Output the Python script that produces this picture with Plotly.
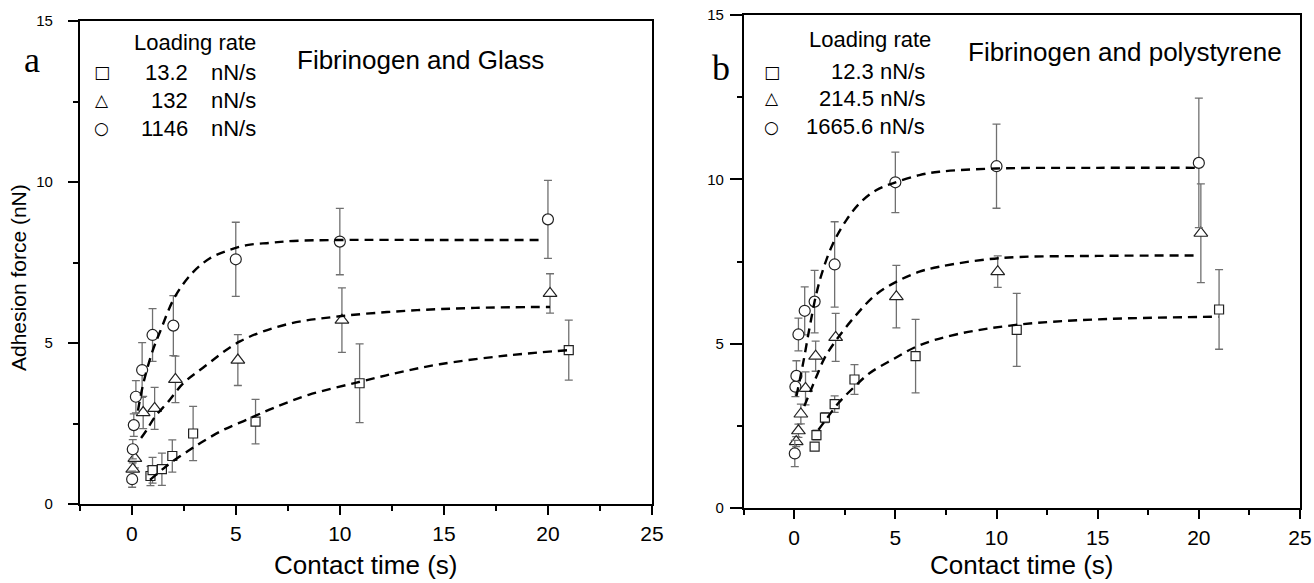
import plotly.graph_objects as go

# ---------------- data ----------------
# Panel a: Fibrinogen and Glass
sq_a_x = [0.9, 1.0, 1.45, 1.95, 2.95, 5.95, 10.95, 21.0]
sq_a_y = [0.87, 1.05, 1.08, 1.49, 2.19, 2.56, 3.75, 4.78]
sq_a_err = [0.3, 0.4, 0.5, 0.5, 0.84, 0.69, 1.22, 0.93]

tri_a_x = [0.05, 0.15, 0.55, 1.1, 2.1, 5.1, 10.1, 20.1]
tri_a_y = [1.08, 1.42, 2.84, 2.97, 3.87, 4.47, 5.71, 6.54]
tri_a_err = [0.2, 0.3, 0.5, 0.65, 0.72, 0.79, 1.0, 0.61]

cir_a_x = [0.02, 0.05, 0.1, 0.2, 0.5, 1.0, 2.0, 5.0, 10.0, 20.0]
cir_a_y = [0.77, 1.70, 2.45, 3.33, 4.16, 5.25, 5.54, 7.6, 8.15, 8.84]
cir_a_err = [0.25, 0.3, 0.35, 0.5, 0.85, 0.82, 0.93, 1.15, 1.03, 1.21]

fit_sq_a_x = [0.88, 1.52, 1.92, 2.72, 3.44, 4.4, 5.53, 6.8, 8.5, 10.8, 12.8, 14.8, 18.0, 21.0]
fit_sq_a_y = [0.75, 1.1, 1.3, 1.65, 1.95, 2.3, 2.62, 2.98, 3.39, 3.77, 4.08, 4.34, 4.61, 4.78]
fit_tri_a_x = [0.45, 0.72, 1.12, 1.76, 2.48, 3.44, 5.2, 7.45, 10.0, 13.2, 16.5, 20.1]
fit_tri_a_y = [2.05, 2.3, 2.71, 3.18, 3.75, 4.24, 5.05, 5.58, 5.83, 6.0, 6.09, 6.12]
fit_cir_a_x = [0.3, 0.56, 1.0, 1.36, 2.08, 2.96, 3.76, 4.57, 5.53, 6.65, 7.77, 10.0, 15.0, 19.8]
fit_cir_a_y = [2.9, 3.75, 4.75, 5.35, 6.44, 7.21, 7.63, 7.86, 8.04, 8.11, 8.17, 8.2, 8.2, 8.2]

# Panel b: Fibrinogen and polystyrene
sq_b_x = [1.01, 1.1, 1.52, 2.0, 2.98, 6.0, 11.0, 21.0]
sq_b_y = [1.87, 2.22, 2.75, 3.16, 3.91, 4.62, 5.42, 6.04]
sq_b_err = [0.1, 0.15, 0.15, 0.25, 0.45, 1.12, 1.11, 1.21]

tri_b_x = [0.1, 0.21, 0.33, 0.56, 1.06, 2.05, 5.05, 10.06, 20.1]
tri_b_y = [2.02, 2.35, 2.86, 3.64, 4.62, 5.19, 6.43, 7.19, 8.36]
tri_b_err = [0.15, 0.2, 0.3, 0.5, 0.46, 0.73, 0.95, 0.48, 1.5]

cir_b_x = [0.03, 0.06, 0.11, 0.21, 0.52, 1.01, 2.0, 5.0, 10.0, 20.0]
cir_b_y = [1.66, 3.69, 4.02, 5.28, 6.0, 6.28, 7.41, 9.91, 10.4, 10.5]
cir_b_err = [0.4, 0.3, 0.46, 0.5, 0.73, 0.95, 1.3, 0.92, 1.28, 1.97]

fit_sq_b_x = [1.2, 1.5, 2.2, 2.98, 3.72, 4.87, 6.19, 8.0, 10.95, 15.0, 20.97]
fit_sq_b_y = [2.38, 2.63, 3.2, 3.69, 4.1, 4.52, 4.95, 5.28, 5.57, 5.74, 5.82]
fit_tri_b_x = [0.5, 0.8, 1.1, 1.5, 2.08, 3.1, 4.05, 5.04, 6.19, 7.17, 10.1, 15.0, 19.96]
fit_tri_b_y = [3.1, 3.55, 4.0, 4.56, 5.11, 5.9, 6.5, 6.88, 7.19, 7.34, 7.6, 7.67, 7.68]
fit_cir_b_x = [0.11, 0.44, 0.77, 1.1, 1.42, 1.92, 2.58, 3.23, 4.05, 4.87, 6.19, 7.17, 10.0, 15.0, 19.8]
fit_cir_b_y = [3.4, 4.4, 5.52, 6.53, 7.24, 8.05, 8.76, 9.27, 9.67, 9.88, 10.13, 10.23, 10.33, 10.35, 10.35]

# text
panel_letters = ["a", "b"]
panel_titles = ["Fibrinogen and Glass", "Fibrinogen and polystyrene"]
legend_title = "Loading rate"
legend_symbols = ["\u25a1", "\u25b3", "\u25cb"]
rates_a = ["13.2", "132", "1146"]
unit_a = "nN/s"
rates_b = ["12.3 nN/s", "214.5 nN/s", "1665.6 nN/s"]
x_title = "Contact time (s)"
y_title = "Adhesion force (nN)"
x_ticks = [0, 5, 10, 15, 20, 25]
y_ticks = [0, 5, 10, 15]

# ---------------- figure ----------------
W, H = 1314, 583
SANS = "Liberation Sans, Arial, Helvetica, sans-serif"
SERIF = "Liberation Serif, Times New Roman, serif"


def px(x):
    return x / W


def py(y):
    return 1 - y / H


fig = go.Figure()

marker_line = dict(color="#222222", width=1.2)
err_style = dict(type="data", color="#707070", thickness=1.3, width=4)
fit_style = dict(color="black", width=2.4, dash="9px,6px", shape="spline")

series = [
    ("x", "y", sq_a_x, sq_a_y, sq_a_err, "square", 9),
    ("x", "y", tri_a_x, tri_a_y, tri_a_err, "triangle-up", 12),
    ("x", "y", cir_a_x, cir_a_y, cir_a_err, "circle", 11),
    ("x2", "y2", sq_b_x, sq_b_y, sq_b_err, "square", 9),
    ("x2", "y2", tri_b_x, tri_b_y, tri_b_err, "triangle-up", 12),
    ("x2", "y2", cir_b_x, cir_b_y, cir_b_err, "circle", 11),
]
for xa, ya, xs, ys, es, sym, size in series:
    fig.add_trace(go.Scatter(
        x=xs, y=ys, mode="markers", xaxis=xa, yaxis=ya, showlegend=False,
        error_y=dict(array=es, **err_style),
        marker=dict(symbol=sym, size=size, color="white", line=marker_line),
    ))

fits = [
    ("x", "y", fit_sq_a_x, fit_sq_a_y), ("x", "y", fit_tri_a_x, fit_tri_a_y),
    ("x", "y", fit_cir_a_x, fit_cir_a_y),
    ("x2", "y2", fit_sq_b_x, fit_sq_b_y), ("x2", "y2", fit_tri_b_x, fit_tri_b_y),
    ("x2", "y2", fit_cir_b_x, fit_cir_b_y),
]
for xa, ya, xs, ys in fits:
    fig.add_trace(go.Scatter(x=xs, y=ys, mode="lines", xaxis=xa, yaxis=ya,
                             showlegend=False, line=fit_style, hoverinfo="skip"))


def xaxis_cfg(dom):
    return dict(domain=dom, range=[-2.5, 25], tickvals=x_ticks, ticks="outside",
                ticklen=9, tickwidth=1.5, tickcolor="black", showline=True,
                linecolor="black", linewidth=1.5, mirror=True, showgrid=False,
                zeroline=False, tickfont=dict(family=SANS, size=21, color="black"),
                ticklabelstandoff=1, automargin=False,
                minor=dict(ticks="outside", ticklen=5, tickwidth=1.5,
                           tickcolor="black", dtick=2.5, tick0=-2.5, showgrid=False))


def yaxis_cfg(dom, anchor, ticklen, standoff):
    return dict(domain=dom, range=[0, 15], tickvals=y_ticks, ticks="outside",
                ticklen=ticklen, tickwidth=1.5, tickcolor="black", showline=True,
                linecolor="black", linewidth=1.5, mirror=True, showgrid=False,
                zeroline=False, anchor=anchor,
                tickfont=dict(family=SANS, size=15, color="black"),
                ticklabelstandoff=standoff, automargin=False,
                minor=dict(ticks="outside", ticklen=5, tickwidth=1.5,
                           tickcolor="black", dtick=2.5, tick0=0, showgrid=False))


fig.update_layout(
    width=W, height=H,
    margin=dict(l=0, r=0, t=0, b=0),
    paper_bgcolor="white", plot_bgcolor="white",
    showlegend=False,
    xaxis={**xaxis_cfg([px(79.7), px(652)]), "anchor": "y"},
    yaxis=yaxis_cfg([py(504), py(21)], "x", 10, 12),
    xaxis2={**xaxis_cfg([px(743.6), px(1300)]), "anchor": "y2"},
    yaxis2=yaxis_cfg([py(508), py(15)], "x2", 12, 3),
)

ann = []


def add_text(text, x, y, size, xanchor="center", family=SANS, angle=0):
    ann.append(dict(text=text, x=px(x), y=py(y), xref="paper", yref="paper",
                    xanchor=xanchor, yanchor="middle", showarrow=False,
                    textangle=angle, font=dict(family=family, size=size, color="black")))


# panel letters
add_text(panel_letters[0], 32, 60, 36, family=SERIF)
add_text(panel_letters[1], 721, 68, 36, family=SERIF)
# panel titles
add_text(panel_titles[0], 295, 60, 26, xanchor="left")
add_text(panel_titles[1], 966, 52, 26, xanchor="left")
# axis titles
add_text(x_title, 366, 565, 26)
add_text(x_title, 1022, 565, 26)
add_text(y_title, 18, 278, 21, angle=-90)

# legend a
add_text(legend_title, 131.7, 42, 22, xanchor="left")
for i, (sym, rate) in enumerate(zip(legend_symbols, rates_a)):
    yy = [72, 100, 128.3][i]
    add_text(sym, 101.7, yy, 17, family="DejaVu Sans")
    add_text(rate, 190, yy, 22, xanchor="right")
    add_text(unit_a, 209, yy, 22, xanchor="left")

# legend b
add_text(legend_title, 806.7, 40, 22, xanchor="left")
for i, (sym, rate) in enumerate(zip(legend_symbols, rates_b)):
    yy = [71.7, 98.3, 126.7][i]
    add_text(sym, 771.7, yy, 17, family="DejaVu Sans")
    add_text(rate, 927.3, yy, 22, xanchor="right")

fig.update_layout(annotations=ann)

# remove the page's default body margin so the figure fills the window exactly
fig.write_html(
    "out.html",
    config={"displayModeBar": False},
    post_script="document.body.style.margin='0';document.body.style.overflow='hidden';",
)
